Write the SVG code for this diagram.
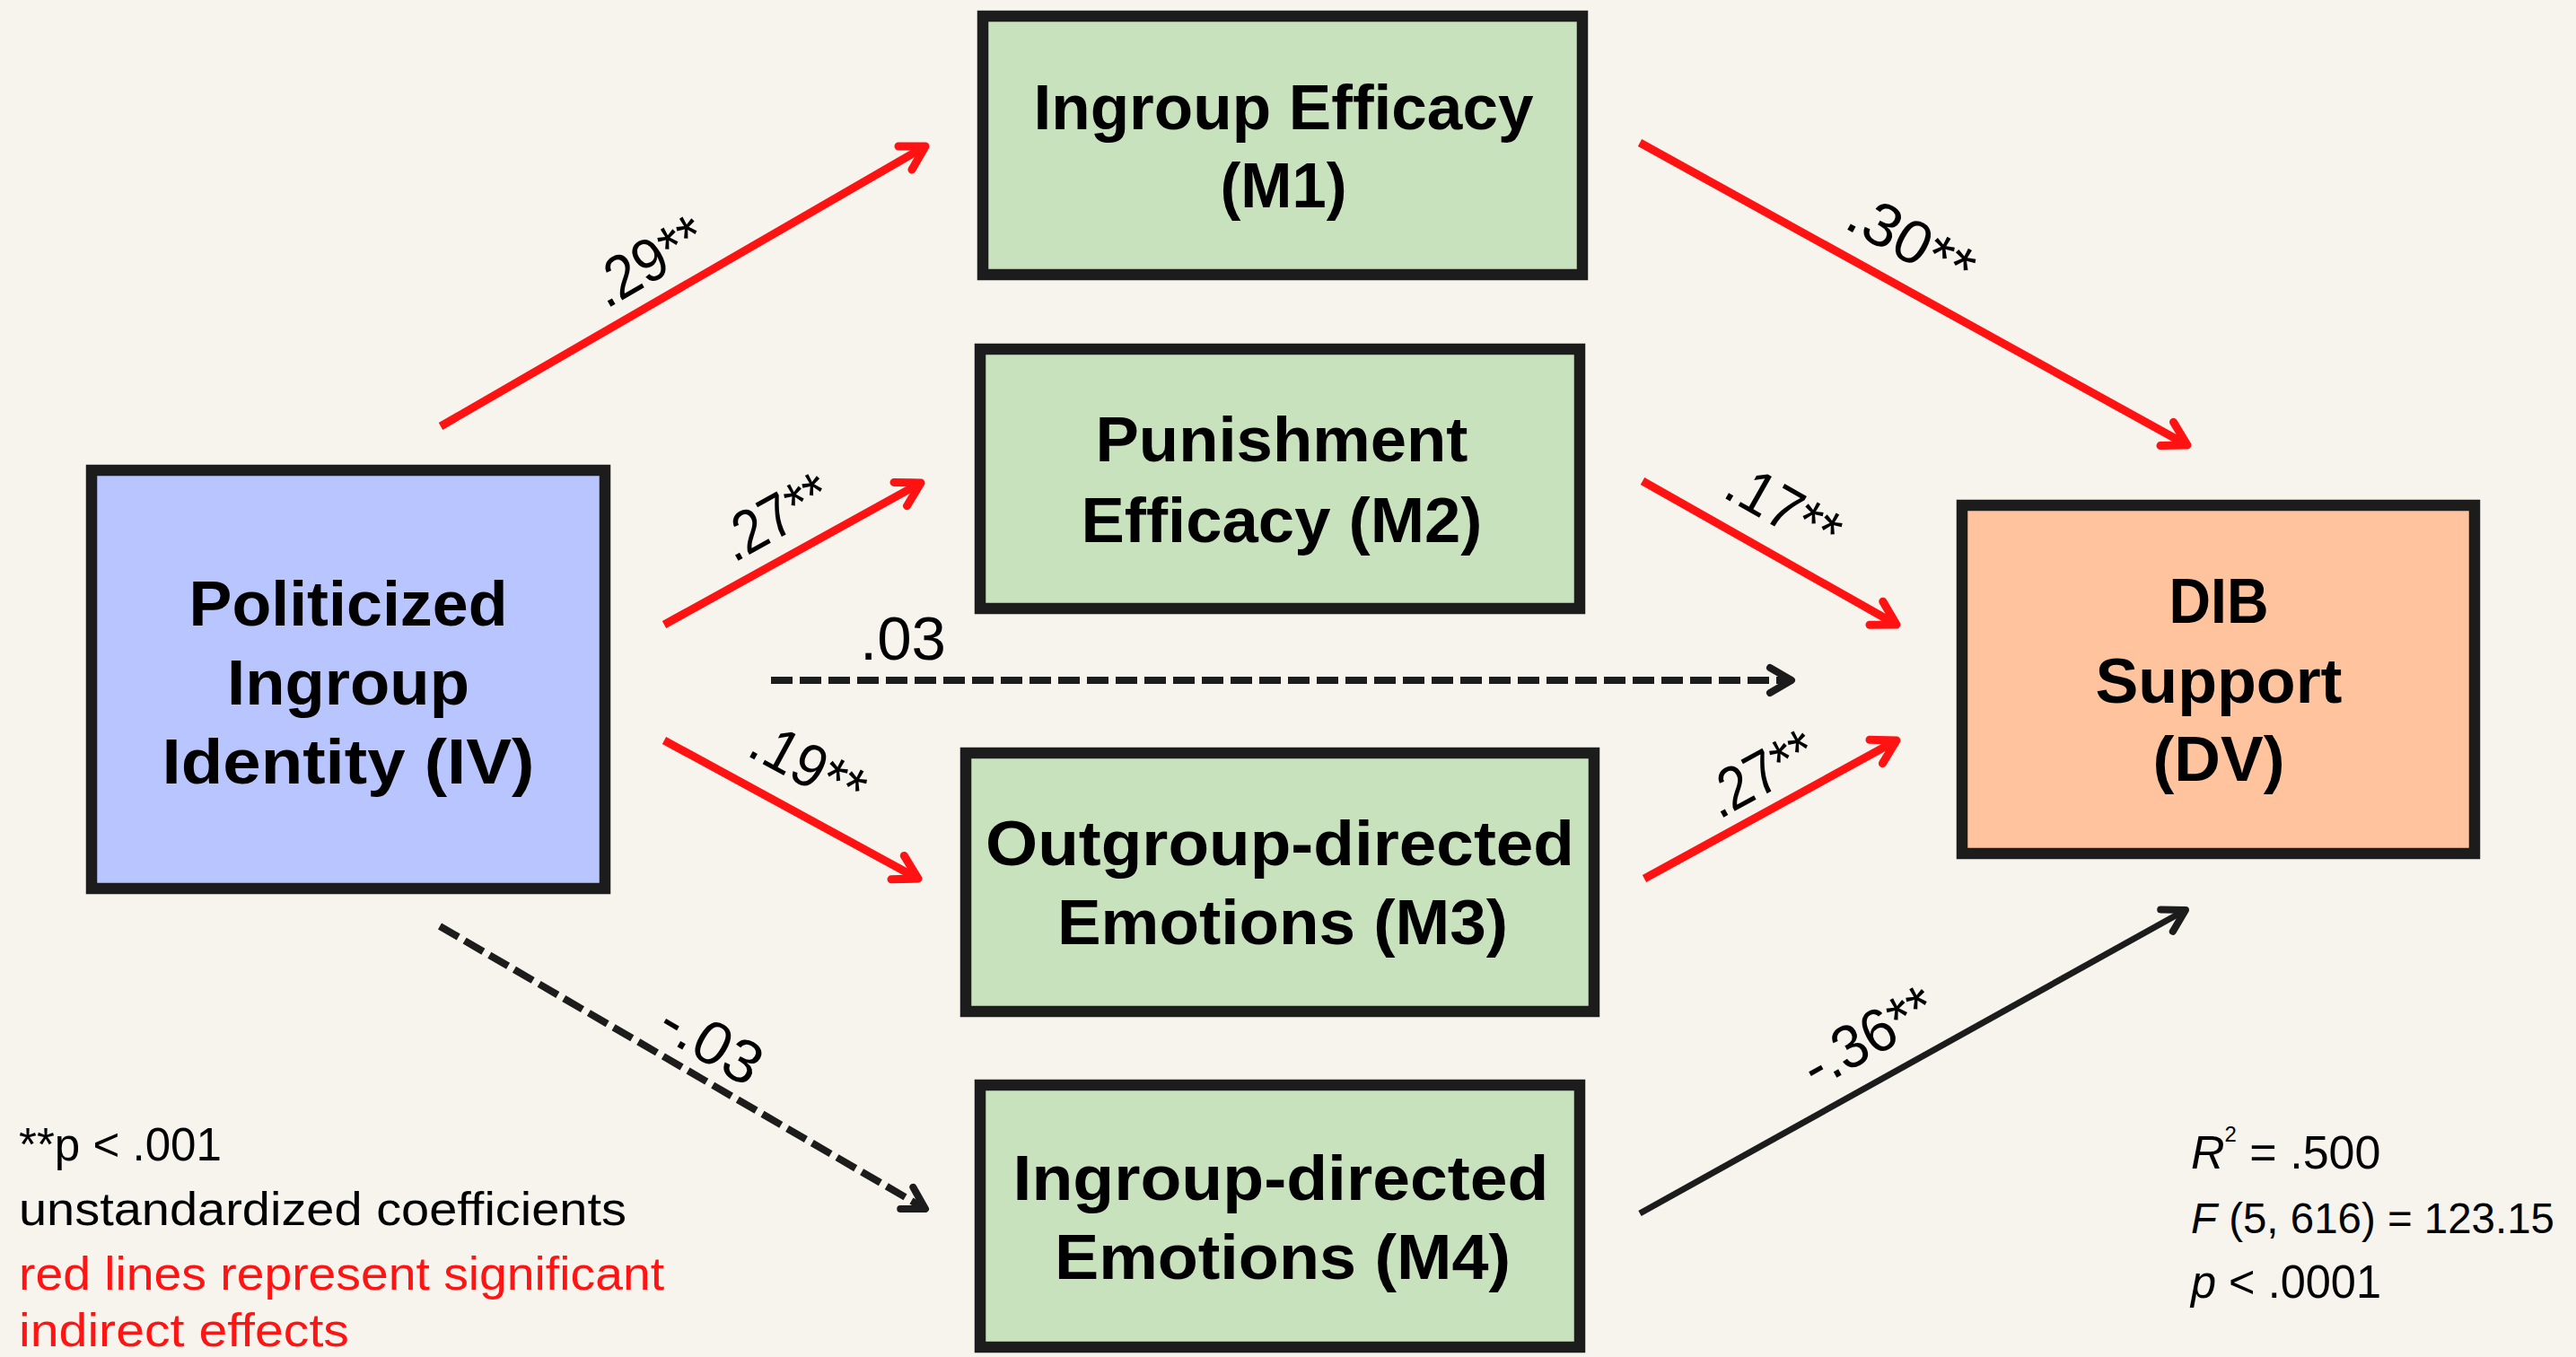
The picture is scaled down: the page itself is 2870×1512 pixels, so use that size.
<svg xmlns="http://www.w3.org/2000/svg" width="2870" height="1512" viewBox="0 0 2870 1512">
<defs>
<style>
.box{stroke:#1c1c1c;stroke-width:12.5}
.iv{fill:#B9C5FE}
.med{fill:#C9E2BE}
.dv{fill:#FFC39D}
.title{font-family:"Liberation Sans","Noto Sans",sans-serif;font-weight:bold;font-size:70px;fill:#000;text-anchor:middle}
.lbl{font-family:"Liberation Sans","Noto Sans",sans-serif;font-size:68px;fill:#000;text-anchor:middle}
.note{font-family:"Liberation Sans","Noto Sans",sans-serif;font-size:52px;fill:#000}
.red{stroke:#FF1212;stroke-width:9;fill:none}
.blk{stroke:#1c1c1c;stroke-width:7;fill:none}
.dash{stroke:#1c1c1c;stroke-width:8;fill:none;stroke-dasharray:24 8}
</style>
<marker id="hr" markerUnits="userSpaceOnUse" orient="auto" markerWidth="60" markerHeight="60" refX="0" refY="0" viewBox="-40 -30 50 60" overflow="visible">
<path d="M -26,-15 L 0,0 L -26,15" fill="none" stroke="#FF1212" stroke-width="9" stroke-linecap="round" stroke-linejoin="round"/>
</marker>
<marker id="hk" markerUnits="userSpaceOnUse" orient="auto" markerWidth="60" markerHeight="60" refX="0" refY="0" viewBox="-40 -30 50 60" overflow="visible">
<path d="M -24,-14 L 0,0 L -24,14" fill="none" stroke="#1c1c1c" stroke-width="8" stroke-linecap="round" stroke-linejoin="round"/>
</marker>
</defs>
<rect x="0" y="0" width="2870" height="1512" fill="#F6F4EC"/>

<g id="connectors">
<line class="red" x1="491" y1="475" x2="1031" y2="163" marker-end="url(#hr)"/>
<line class="red" x1="740" y1="696" x2="1026" y2="538" marker-end="url(#hr)"/>
<line class="dash" x1="859" y1="758" x2="1996" y2="758" marker-end="url(#hk)"/>
<line class="red" x1="740" y1="825" x2="1023" y2="979" marker-end="url(#hr)"/>
<line class="dash" x1="490" y1="1032" x2="1031" y2="1347" marker-end="url(#hk)"/>
<line class="red" x1="1827" y1="159" x2="2437" y2="496" marker-end="url(#hr)"/>
<line class="red" x1="1830" y1="536" x2="2113" y2="696" marker-end="url(#hr)"/>
<line class="red" x1="1832" y1="979" x2="2113" y2="825" marker-end="url(#hr)"/>
<line class="blk" x1="1827" y1="1352" x2="2435" y2="1014" marker-end="url(#hk)"/>
<text class="lbl" transform="translate(722,290) rotate(-30)" y="24" textLength="135" lengthAdjust="spacingAndGlyphs">.29**</text>
<text class="lbl" transform="translate(863,575) rotate(-29)" y="24" textLength="130" lengthAdjust="spacingAndGlyphs">.27**</text>
<text class="lbl" x="1006" y="735" textLength="96" lengthAdjust="spacingAndGlyphs">.03</text>
<text class="lbl" transform="translate(901,852) rotate(28.6)" y="24" textLength="135" lengthAdjust="spacingAndGlyphs">.19**</text>
<text class="lbl" transform="translate(793,1161) rotate(30.4)" y="24" textLength="120" lengthAdjust="spacingAndGlyphs">-.03</text>
<text class="lbl" transform="translate(2130,268) rotate(28.9)" y="24" textLength="150" lengthAdjust="spacingAndGlyphs">.30**</text>
<text class="lbl" transform="translate(1988,565) rotate(29.5)" y="24" textLength="135" lengthAdjust="spacingAndGlyphs">.17**</text>
<text class="lbl" transform="translate(1961,861) rotate(-28.7)" y="24" textLength="130" lengthAdjust="spacingAndGlyphs">.27**</text>
<text class="lbl" transform="translate(2081,1154) rotate(-29)" y="24" textLength="160" lengthAdjust="spacingAndGlyphs">-.36**</text>
</g>

<g id="iv">
<rect class="box iv" x="102" y="524" width="572" height="466"/>
<text class="title" x="388" y="697" textLength="355" lengthAdjust="spacingAndGlyphs">Politicized</text>
<text class="title" x="388" y="785" textLength="270" lengthAdjust="spacingAndGlyphs">Ingroup</text>
<text class="title" x="388" y="873" textLength="415" lengthAdjust="spacingAndGlyphs">Identity (IV)</text>
</g>

<g id="m1">
<rect class="box med" x="1095" y="18" width="668" height="288"/>
<text class="title" x="1430" y="144" textLength="557" lengthAdjust="spacingAndGlyphs">Ingroup Efficacy</text>
<text class="title" x="1430" y="231" textLength="141" lengthAdjust="spacingAndGlyphs">(M1)</text>
</g>

<g id="m2">
<rect class="box med" x="1092" y="389" width="668" height="289"/>
<text class="title" x="1428" y="514" textLength="415" lengthAdjust="spacingAndGlyphs">Punishment</text>
<text class="title" x="1428" y="604" textLength="447" lengthAdjust="spacingAndGlyphs">Efficacy (M2)</text>
</g>

<g id="m3">
<rect class="box med" x="1076" y="839" width="700" height="288"/>
<text class="title" x="1426" y="964" textLength="656" lengthAdjust="spacingAndGlyphs">Outgroup-directed</text>
<text class="title" x="1429" y="1052" textLength="502" lengthAdjust="spacingAndGlyphs">Emotions (M3)</text>
</g>

<g id="m4">
<rect class="box med" x="1092" y="1209" width="668" height="292"/>
<text class="title" x="1427" y="1337" textLength="597" lengthAdjust="spacingAndGlyphs">Ingroup-directed</text>
<text class="title" x="1429" y="1425" textLength="508" lengthAdjust="spacingAndGlyphs">Emotions (M4)</text>
</g>

<g id="dv">
<rect class="box dv" x="2186" y="563" width="571" height="388"/>
<text class="title" x="2472" y="694" textLength="111" lengthAdjust="spacingAndGlyphs">DIB</text>
<text class="title" x="2472" y="783" textLength="275" lengthAdjust="spacingAndGlyphs">Support</text>
<text class="title" x="2472" y="870" textLength="147" lengthAdjust="spacingAndGlyphs">(DV)</text>
</g>

<g id="legend">
<text class="note" x="21" y="1293" textLength="226" lengthAdjust="spacingAndGlyphs">**p &lt; .001</text>
<text class="note" x="21" y="1365" textLength="677" lengthAdjust="spacingAndGlyphs">unstandardized coefficients</text>
<text class="note" x="21" y="1437" textLength="719" lengthAdjust="spacingAndGlyphs" style="fill:#FF1414">red lines represent significant</text>
<text class="note" x="21" y="1500" textLength="368" lengthAdjust="spacingAndGlyphs" style="fill:#FF1414">indirect effects</text>
</g>

<g id="stats">
<text class="note" x="2441" y="1302"><tspan font-style="italic">R</tspan><tspan font-size="24" dy="-30">2</tspan><tspan dy="30"> = .500</tspan></text>
<text class="note" x="2441" y="1374" style="font-size:48px" textLength="405" lengthAdjust="spacingAndGlyphs"><tspan font-style="italic">F</tspan> (5, 616) = 123.15</text>
<text class="note" x="2441" y="1446" textLength="212" lengthAdjust="spacingAndGlyphs"><tspan font-style="italic">p</tspan> &lt; .0001</text>
</g>
</svg>
